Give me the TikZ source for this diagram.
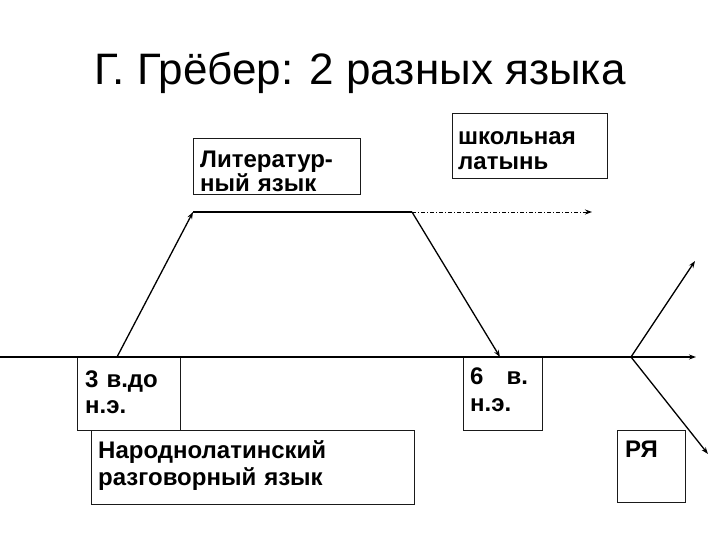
\documentclass[tikz,border=0pt]{standalone}
\usepackage{fontspec}
\setmainfont{Liberation Sans}
\usetikzlibrary{arrows.meta}
\definecolor{boxline}{HTML}{1A1A1A}
\tikzset{
  datebox/.style={draw=boxline,line width=0.9pt,anchor=north west,inner sep=0pt},
  boxtext/.style={anchor=base west,inner sep=0pt,align=left,text width=#1,
    font=\bfseries\fontsize{24}{26}\selectfont},
  arr/.style={-{Stealth[length=7pt,width=5pt]},line width=1.3pt}
}

\begin{document}
\begin{tikzpicture}[x=1pt,y=-1pt]
\useasboundingbox (0,0) rectangle (720,540);

\node[font=\fontsize{44}{48}\selectfont,anchor=base] (title) at (360,85) {Г. Грёбер: 2 разных языка};

% boxes
\node[datebox,minimum width=167pt,minimum height=56pt] (litbox) at (193,138) {};
\node[datebox,minimum width=155pt,minimum height=65pt] (schoolbox) at (452,113) {};
\node[datebox,minimum width=103pt,minimum height=73pt] (bcbox) at (77,357) {};
\node[datebox,minimum width=79pt,minimum height=73pt] (adbox) at (463,357) {};
\node[datebox,minimum width=323pt,minimum height=74pt] (folkbox) at (91,430) {};
\node[datebox,minimum width=68pt,minimum height=72pt] (rubox) at (617,430) {};

% texts
\node[boxtext=170pt,font=\bfseries\fontsize{24}{24}\selectfont] (littext) at (200,168) {Литератур-\\ный язык};
\node[boxtext=150pt,font=\bfseries\fontsize{24}{25}\selectfont] (schooltext) at (458,145) {школьная\\латынь};
\node[boxtext=100pt] (bctext) at (85,387) {3 в.до\\н.э.};
\node[boxtext=80pt,font=\bfseries\fontsize{24}{27}\selectfont] (adtext) at (470,384) {6 \hspace{15pt}в.\\н.э.};
\node[boxtext=320pt,font=\bfseries\fontsize{24}{27}\selectfont] (folktext) at (98,458) {Народнолатинский\\разговорный язык};
\node[boxtext=60pt] (rutext) at (625,457) {РЯ};

% time axis and branches
\coordinate (west) at (0,357);
\coordinate (bcfoot) at (117,357);
\coordinate (adfoot) at (500,357);
\coordinate (fork) at (631,357);
\coordinate (east) at (696,357);
\coordinate (litl) at (193,212);
\coordinate (litr) at (412,212);
\coordinate (dotend) at (592,212);
\coordinate (up) at (695,261);
\coordinate (down) at (708,454);

\draw[arr,line width=1.8pt] (west) -- (east);
\draw[arr] (bcfoot) -- (litl);
\draw[line width=1.3pt] (litl) -- (litr);
\draw[arr] (litr) -- (adfoot);
\draw[arr,line width=0.9pt,dash pattern=on 4pt off 2pt on 1pt off 2pt] (litr) -- (dotend);
\draw[arr] (fork) -- (up);
\draw[arr] (fork) -- (down);
\end{tikzpicture}
\end{document}
